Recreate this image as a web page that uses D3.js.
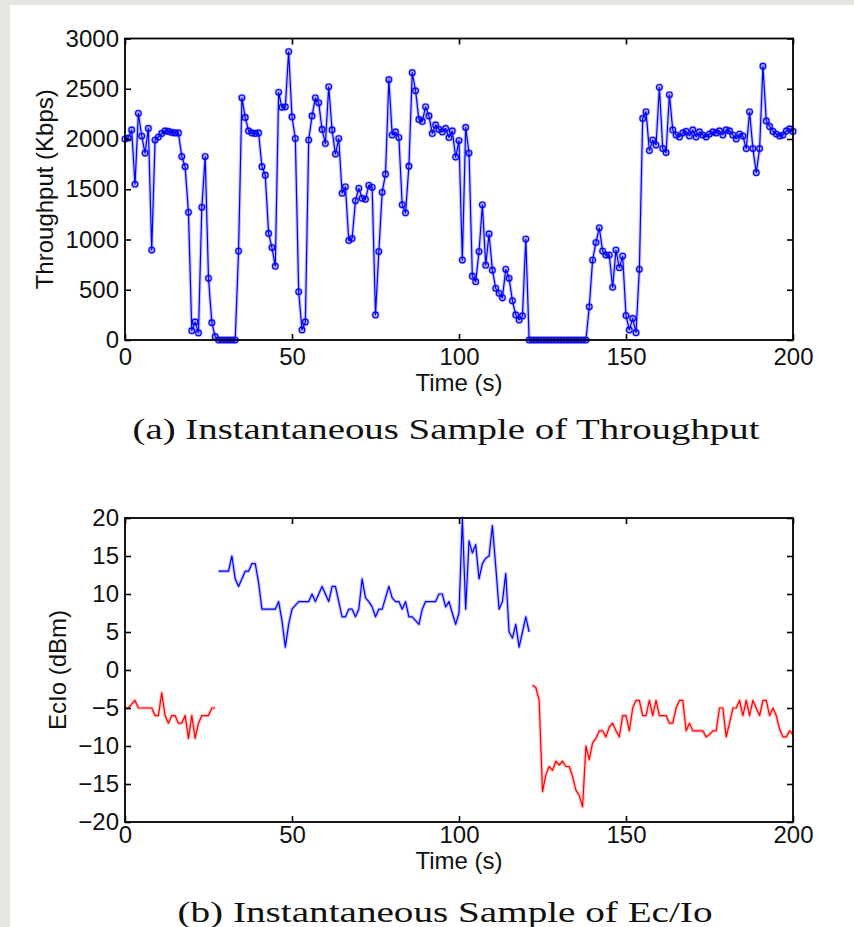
<!DOCTYPE html>
<html><head><meta charset="utf-8">
<script src="https://cdn.jsdelivr.net/npm/d3@7"></script>
<style>
html,body{margin:0;padding:0;background:#fff;}
svg{display:block;}
</style></head>
<body>
<svg id="chart" width="854" height="927"></svg>
<script>
// ---------- DATA ----------
const xTicks = [0, 50, 100, 150, 200];
const thrTicks = [0, 500, 1000, 1500, 2000, 2500, 3000];
const ecioTicks = [-20, -15, -10, -5, 0, 5, 10, 15, 20];

// Throughput (Kbps), one sample per second, t = 0..200
const throughput = [
 2000,2010,2090,1550,2255,2030,1860,2105,895,1990,
 2020,2055,2080,2075,2065,2060,2060,1825,1725,1270,
 93,180,70,1320,1825,614,172,33,0,0,
 0,0,0,0,885,2410,2215,2080,2060,2055,
 2060,1725,1640,1060,920,735,2465,2315,2320,2870,
 2220,2005,480,100,180,1990,2230,2410,2360,2095,
 1955,2520,2090,1850,2005,1460,1525,990,1010,1385,
 1510,1410,1400,1540,1520,250,880,1470,1650,2590,
 2040,2070,2015,1345,1265,1730,2660,2480,2195,2175,
 2320,2230,2055,2140,2095,2070,2105,2015,2080,1820,
 1985,795,2115,1860,635,580,880,1345,745,1055,
 695,515,465,420,703,614,390,250,200,240,
 1005,0,0,0,0,0,0,0,0,0,
 0,0,0,0,0,0,0,0,0,330,
 795,970,1117,885,845,845,525,895,720,835,
 243,100,215,73,703,2205,2270,1885,1990,1940,
 2515,1905,1865,2440,2090,2040,2020,2060,2075,2030,
 2090,2020,2070,2040,2020,2050,2070,2060,2080,2040,
 2090,2080,2040,2000,2050,2030,1905,2270,1905,1665,
 1905,2725,2180,2125,2075,2050,2030,2040,2080,2100,
 2075
];
const throughputTimes = throughput.map((_, i) => i);

// Ec/Io (dBm) segments
const ecioRed1Times = [0,1,2,3,4,5,6,7,8,9,10,11,12,13,14,15,16,17,18,19,20,21,22,23,24,25,26,27];
const ecioRed1 = [-5,-5,-4.5,-4,-5,-5,-5,-5,-5,-6,-6,-3,-6,-7,-6,-6,-7,-7,-6,-9,-6,-9,-7,-6,-6,-6,-5,-5];

const ecioBlueTimes = [28,29,30,31,32,33,34,35,36,37,38,39,40,41,42,43,44,45,46,47,48,49,50,51,52,53,54,55,56,57,58,59,60,
 61,62,63,64,65,66,67,68,69,70,71,72,73,74,75,76,77,78,79,80,81,82,83,84,85,86,87,88,89,90,91,92,93,94,95,96,97,98,99,100,
 101,102,103,104,105,106,107,108,109,110,111,112,113,114,115,116,117,118,119,120,121];
const ecioBlue = [13,13,13,13,15,12,11,12,13,13,14,14,11.5,8,8,8,8,8,9,6.5,3,6,8,8.5,9,9,9,9,10,9,10,11,10,
 9,11,11,9,7,7,8,8,7,8,12,9.5,9,8.3,7,8,8,9.5,11,9.5,9,9,8,9,7,7,6.5,6,8,9,9,9,9,10,10,8.3,9,7.5,6,7.5,
 20,8,17,15.4,16.5,12,14,14.7,15,19,13.6,8,9,12.7,5,4.2,6,3,5,7,5];

const ecioRed2Times = [122,123,124,125,126,127,128,129,130,131,132,133,134,135,136,137,138,139,140,
 141,142,143,144,145,146,147,148,149,150,151,152,153,154,155,156,157,158,159,160,
 161,162,163,164,165,166,167,168,169,170,171,172,173,174,175,176,177,178,179,180,
 181,182,183,184,185,186,187,188,189,190,191,192,193,194,195,196,197,198,199,200];
const ecioRed2 = [-2,-2.3,-4,-16,-13.8,-12.7,-13.2,-12,-12.5,-12,-12.7,-12.7,-14,-15.8,-16.5,-18,-10,-11.8,-9.6,
 -9,-8,-8,-8.8,-7.5,-7,-8,-8.8,-6,-6,-8,-5,-4,-4,-6,-6,-4,-6,-4,-6,
 -6,-6,-7,-7,-5,-4,-4,-8,-7,-8,-8,-8,-8,-8.8,-8.5,-8,-8,-5,-5,-8.8,
 -7,-5,-5,-4,-6,-4,-6,-4,-5,-6,-4,-4,-6,-5,-6,-7.8,-8.8,-8.8,-8,-8.5];

const texts = {
  thrY: "Throughput (Kbps)",
  ecioY: "EcIo (dBm)",
  xLab: "Time (s)",
  capA: "(a) Instantaneous Sample of Throughput",
  capB: "(b) Instantaneous Sample of Ec/Io"
};

// ---------- DRAW ----------
const svg = d3.select("#chart");
const W = 854, H = 927;
svg.append("rect").attr("width", W).attr("height", H).attr("fill", "#e7e5e2");
svg.append("rect").attr("x", 10).attr("y", 5).attr("width", W - 10).attr("height", H - 5).attr("fill", "#fff");

const sansFont = "'Liberation Sans', Arial, Helvetica, sans-serif";
const serifFont = "'Liberation Serif', 'Times New Roman', serif";
const tickFs = 24;

function panel(cfg) {
  const x = d3.scaleLinear().domain([0, 200]).range([cfg.left, cfg.right]);
  const y = d3.scaleLinear().domain(cfg.yDomain).range([cfg.bottom, cfg.top]);
  const g = svg.append("g");

  cfg.draw(g, x, y);

  const tl = 6;
  const axB = d3.axisBottom(x).tickValues(xTicks).tickSizeInner(-tl).tickSizeOuter(0).tickPadding(cfg.xPad).tickFormat(d3.format("d"));
  const axT = d3.axisTop(x).tickValues(xTicks).tickSizeInner(-tl).tickSizeOuter(0).tickFormat("");
  const axL = d3.axisLeft(y).tickValues(cfg.yTicks).tickSizeInner(-tl).tickSizeOuter(0).tickPadding(6).tickFormat(d3.format("d"));
  const axR = d3.axisRight(y).tickValues(cfg.yTicks).tickSizeInner(-tl).tickSizeOuter(0).tickFormat("");

  const style = sel => {
    sel.select(".domain").remove();
    sel.selectAll("line").attr("stroke", "#000").attr("stroke-width", 1.6);
    sel.selectAll("text").attr("fill", "#111").style("font-family", sansFont).style("font-size", tickFs + "px");
  };
  g.append("g").attr("transform", `translate(0,${cfg.bottom})`).call(axB).call(style);
  g.append("g").attr("transform", `translate(0,${cfg.top})`).call(axT).call(style);
  g.append("g").attr("transform", `translate(${cfg.left},0)`).call(axL).call(style);
  g.append("g").attr("transform", `translate(${cfg.right},0)`).call(axR).call(style);

  g.append("rect").attr("x", cfg.left).attr("y", cfg.top)
    .attr("width", cfg.right - cfg.left).attr("height", cfg.bottom - cfg.top)
    .attr("fill", "none").attr("stroke", "#000").attr("stroke-width", 1.8);

  g.append("text").attr("x", (cfg.left + cfg.right) / 2).attr("y", cfg.xLabY)
    .attr("text-anchor", "middle").style("font-family", sansFont).style("font-size", "24px").attr("fill", "#111")
    .text(texts.xLab);
  g.append("text").attr("transform", `translate(${cfg.yLabX},${(cfg.top + cfg.bottom) / 2}) rotate(-90)`)
    .attr("text-anchor", "middle").style("font-family", sansFont).style("font-size", "24px").attr("fill", "#111")
    .text(cfg.yLab);
  g.append("text").attr("x", cfg.capX).attr("y", cfg.capY).attr("text-anchor", "middle")
    .style("font-family", serifFont).style("font-size", "30px").attr("fill", "#111")
    .attr("textLength", cfg.capLen).attr("lengthAdjust", "spacingAndGlyphs")
    .text(cfg.cap);
}

function drawLine(g, x, y, times, vals, color, withMarkers) {
  const pts = times.map((t, i) => [t, vals[i]]);
  const line = d3.line().x(d => x(d[0])).y(d => y(d[1]));
  g.append("path").attr("d", line(pts)).attr("fill", "none").attr("stroke", color)
    .attr("stroke-opacity", 0.22).attr("stroke-width", 3.5).attr("stroke-linejoin", "round");
  g.append("path").attr("d", line(pts)).attr("fill", "none").attr("stroke", color)
    .attr("stroke-width", 1.2).attr("stroke-linejoin", "round");
  if (withMarkers) {
    g.selectAll(null).data(pts).enter().append("circle")
      .attr("cx", d => x(d[0])).attr("cy", d => y(d[1])).attr("r", 2.8)
      .attr("fill", "none").attr("stroke", color).attr("stroke-opacity", 0.3).attr("stroke-width", 2.6);
    g.selectAll(null).data(pts).enter().append("circle")
      .attr("cx", d => x(d[0])).attr("cy", d => y(d[1])).attr("r", 2.8)
      .attr("fill", "none").attr("stroke", color).attr("stroke-width", 1.1);
  }
}

panel({
  left: 125, right: 793, top: 38.5, bottom: 340,
  yDomain: [0, 3000], yTicks: thrTicks, xPad: 8,
  xLabY: 391, yLabX: 53, yLab: texts.thrY,
  cap: texts.capA, capX: 446, capY: 439, capLen: 627,
  draw: (g, x, y) => drawLine(g, x, y, throughputTimes, throughput, "#0000ff", true)
});

panel({
  left: 125, right: 793, top: 518, bottom: 822,
  yDomain: [-20, 20], yTicks: ecioTicks, xPad: 4,
  xLabY: 869, yLabX: 66, yLab: texts.ecioY,
  cap: texts.capB, capX: 445, capY: 922, capLen: 535,
  draw: (g, x, y) => {
    drawLine(g, x, y, ecioRed1Times, ecioRed1, "#ff0000", false);
    drawLine(g, x, y, ecioBlueTimes, ecioBlue, "#0000ff", false);
    drawLine(g, x, y, ecioRed2Times, ecioRed2, "#ff0000", false);
  }
});
</script>
</body></html>
